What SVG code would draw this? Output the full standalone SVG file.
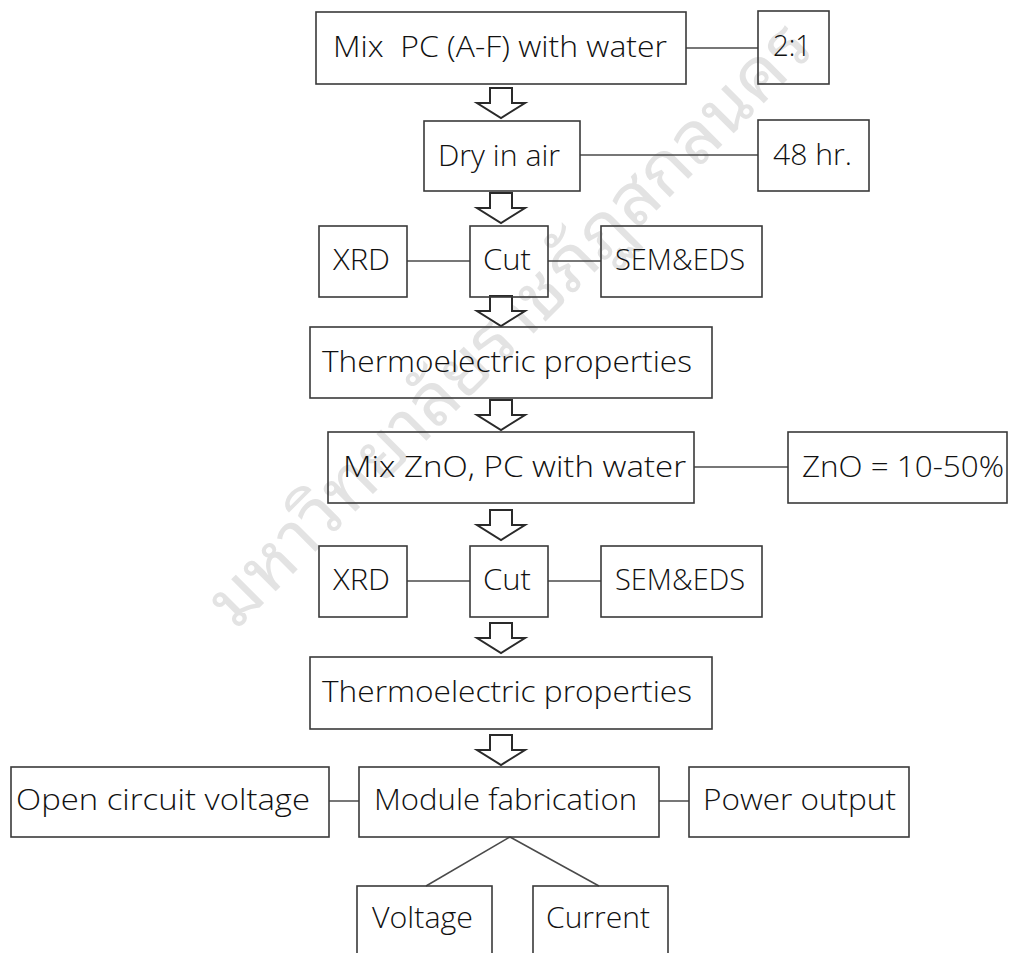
<svg xmlns="http://www.w3.org/2000/svg" width="1019" height="953" viewBox="0 0 1019 953">
<style>
.box{fill:none;stroke:#3a3a3a;stroke-width:1.6}
.lbl{font-family:"Open Sans","Noto Sans","Liberation Sans",sans-serif;font-size:30px;font-weight:300;fill:#111}
.con{stroke:#4a4a4a;stroke-width:1.5;fill:none}
.arr{fill:#fff;stroke:#2a2a2a;stroke-width:2;stroke-linejoin:miter}
.wm{font-family:"Noto Sans Thai Looped","Noto Sans Thai","Noto Serif Thai",Loma,Garuda,"DejaVu Sans",sans-serif;font-size:72px;font-weight:400;fill:#e3e3e3}
</style>
<defs>
<path id="arrow" d="M-11,0 H11 V15 H24 L0,30 L-24,15 H-11 Z"/>
</defs>
<rect width="1019" height="953" fill="#fff"/>
<text class="wm" transform="translate(503,318) rotate(-45)" text-anchor="middle" dominant-baseline="central" textLength="820" lengthAdjust="spacingAndGlyphs">มหาวิทยาลัยราชภัฏสกลนคร</text>

<g id="connectors">
<line class="con" x1="686" y1="48" x2="758" y2="48"/>
<line class="con" x1="580" y1="155" x2="758" y2="155"/>
<line class="con" x1="407" y1="261" x2="470" y2="261"/>
<line class="con" x1="548" y1="261" x2="601" y2="261"/>
<line class="con" x1="694" y1="467" x2="788" y2="467"/>
<line class="con" x1="407" y1="581" x2="470" y2="581"/>
<line class="con" x1="548" y1="581" x2="601" y2="581"/>
<line class="con" x1="329" y1="801" x2="359" y2="801"/>
<line class="con" x1="659" y1="801" x2="689" y2="801"/>
<line class="con" x1="510" y1="837" x2="426" y2="886"/>
<line class="con" x1="510" y1="837" x2="599" y2="886"/>
<use href="#arrow" class="arr" x="501" y="88"/>
<use href="#arrow" class="arr" x="501" y="193"/>
<use href="#arrow" class="arr" x="501" y="296"/>
<use href="#arrow" class="arr" x="501" y="400"/>
<use href="#arrow" class="arr" x="501" y="510"/>
<use href="#arrow" class="arr" x="501" y="623"/>
<use href="#arrow" class="arr" x="501" y="735"/>
</g>

<g id="mix-pc"><rect class="box" x="316" y="12" width="370" height="72"/><text class="lbl" x="333" y="57" textLength="334" lengthAdjust="spacingAndGlyphs" xml:space="preserve">Mix  PC (A-F) with water</text></g>
<g id="ratio"><rect class="box" x="758" y="11" width="71" height="73"/><text class="lbl" x="773" y="56" textLength="38" lengthAdjust="spacingAndGlyphs">2:1</text></g>
<g id="dry"><rect class="box" x="424" y="121" width="156" height="70"/><text class="lbl" x="438" y="166" textLength="122" lengthAdjust="spacingAndGlyphs">Dry in air</text></g>
<g id="hours"><rect class="box" x="758" y="120" width="111" height="71"/><text class="lbl" x="773" y="165" textLength="79" lengthAdjust="spacingAndGlyphs">48 hr.</text></g>

<g id="xrd1"><rect class="box" x="319" y="226" width="88" height="71"/><text class="lbl" x="333" y="270" textLength="57" lengthAdjust="spacingAndGlyphs">XRD</text></g>
<g id="cut1"><rect class="box" x="470" y="226" width="78" height="71"/><text class="lbl" x="483" y="270" textLength="48" lengthAdjust="spacingAndGlyphs">Cut</text></g>
<g id="sem1"><rect class="box" x="601" y="226" width="161" height="71"/><text class="lbl" x="615" y="270" textLength="130" lengthAdjust="spacingAndGlyphs">SEM&amp;EDS</text></g>
<g id="thermo1"><rect class="box" x="310" y="327" width="402" height="71"/><text class="lbl" x="322" y="372" textLength="370" lengthAdjust="spacingAndGlyphs">Thermoelectric properties</text></g>

<g id="mix-zno"><rect class="box" x="328" y="432" width="366" height="71"/><text class="lbl" x="343" y="477" textLength="343" lengthAdjust="spacingAndGlyphs">Mix ZnO, PC with water</text></g>
<g id="zno-ratio"><rect class="box" x="788" y="432" width="219" height="71"/><text class="lbl" x="802" y="477" textLength="202" lengthAdjust="spacingAndGlyphs">ZnO = 10-50%</text></g>

<g id="xrd2"><rect class="box" x="319" y="546" width="88" height="71"/><text class="lbl" x="333" y="590" textLength="57" lengthAdjust="spacingAndGlyphs">XRD</text></g>
<g id="cut2"><rect class="box" x="470" y="546" width="78" height="71"/><text class="lbl" x="483" y="590" textLength="48" lengthAdjust="spacingAndGlyphs">Cut</text></g>
<g id="sem2"><rect class="box" x="601" y="546" width="161" height="71"/><text class="lbl" x="615" y="590" textLength="130" lengthAdjust="spacingAndGlyphs">SEM&amp;EDS</text></g>
<g id="thermo2"><rect class="box" x="310" y="657" width="402" height="72"/><text class="lbl" x="322" y="702" textLength="370" lengthAdjust="spacingAndGlyphs">Thermoelectric properties</text></g>

<g id="open-circuit"><rect class="box" x="11" y="767" width="318" height="70"/><text class="lbl" x="16" y="810" textLength="294" lengthAdjust="spacingAndGlyphs">Open circuit voltage</text></g>
<g id="module"><rect class="box" x="359" y="767" width="300" height="70"/><text class="lbl" x="374" y="810" textLength="263" lengthAdjust="spacingAndGlyphs">Module fabrication</text></g>
<g id="power"><rect class="box" x="689" y="767" width="220" height="70"/><text class="lbl" x="703" y="810" textLength="193" lengthAdjust="spacingAndGlyphs">Power output</text></g>
<g id="voltage"><rect class="box" x="357" y="886" width="135" height="80"/><text class="lbl" x="372" y="928" textLength="101" lengthAdjust="spacingAndGlyphs">Voltage</text></g>
<g id="current"><rect class="box" x="533" y="886" width="135" height="80"/><text class="lbl" x="546" y="928" textLength="104" lengthAdjust="spacingAndGlyphs">Current</text></g>
</svg>
